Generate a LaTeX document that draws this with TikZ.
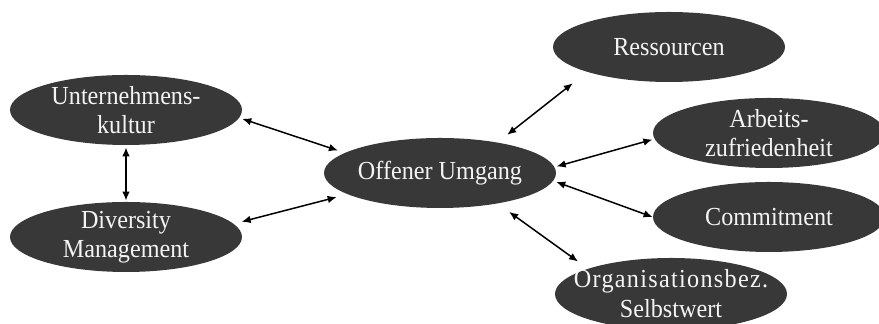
\documentclass[tikz,border=0pt]{standalone}
\usepackage{fontspec}
\setmainfont{Liberation Serif}[FakeStretch=0.93]
\usetikzlibrary{arrows.meta, shapes.geometric}
\definecolor{ovalfill}{HTML}{383838}
\definecolor{ovaltext}{HTML}{F4F4F4}

\begin{document}
\begin{tikzpicture}[
    x=0.5pt, y=-0.5pt,
    >={Latex[length=4.5pt, width=3.8pt]},
    oval/.style={ellipse, fill=ovalfill, text=ovaltext,
                 inner xsep=-10pt, inner ysep=-3pt,
                 minimum width=116pt, minimum height=35pt, align=center,
                 font=\fontsize{13}{14.5}\selectfont},
    link/.style={<->, line width=0.75pt},
]
\useasboundingbox (0,0) rectangle (879,324);
\clip (0,0) rectangle (879,324);
% antecedents on the left
\node[oval] (kultur)    at (126,110) {Unternehmens-\\kultur};
\node[oval] (diversity) at (126,237) {Diversity\\Management};
% the central construct
\node[oval] (umgang)    at (440,173) {Offener Umgang};
% outcomes on the right
\node[oval] (ressourcen) at (669,47)  {Ressourcen};
\node[oval] (zufrieden)  at (769,133) {Arbeits-\\zufriedenheit};
\node[oval] (commit)     at (769,217) {Commitment};
\node[oval, minimum height=36pt] (selbstwert) at (671,294)
   {{\addfontfeature{LetterSpace=5}Organisationsbez.}\\[0.5pt]Selbstwert};
% two-headed links, from anchor to anchor
\foreach \a/\b/\s/\e in {kultur.-4/umgang.168/1.5pt/3.5pt,
                         diversity.7/umgang.193/4pt/5.5pt,
                         kultur.south/diversity.north/1pt/0.5pt,
                         umgang.28/ressourcen.197/6pt/9pt,
                         umgang.3.5/zufrieden.183.5/1pt/1pt,
                         umgang.-4.5/commit.180/1.5pt/0pt,
                         umgang.-28.6/selbstwert.163.7/7pt/6pt}
  \draw[link, shorten <=\s, shorten >=\e] (\a) -- (\b);
\end{tikzpicture}
\end{document}
